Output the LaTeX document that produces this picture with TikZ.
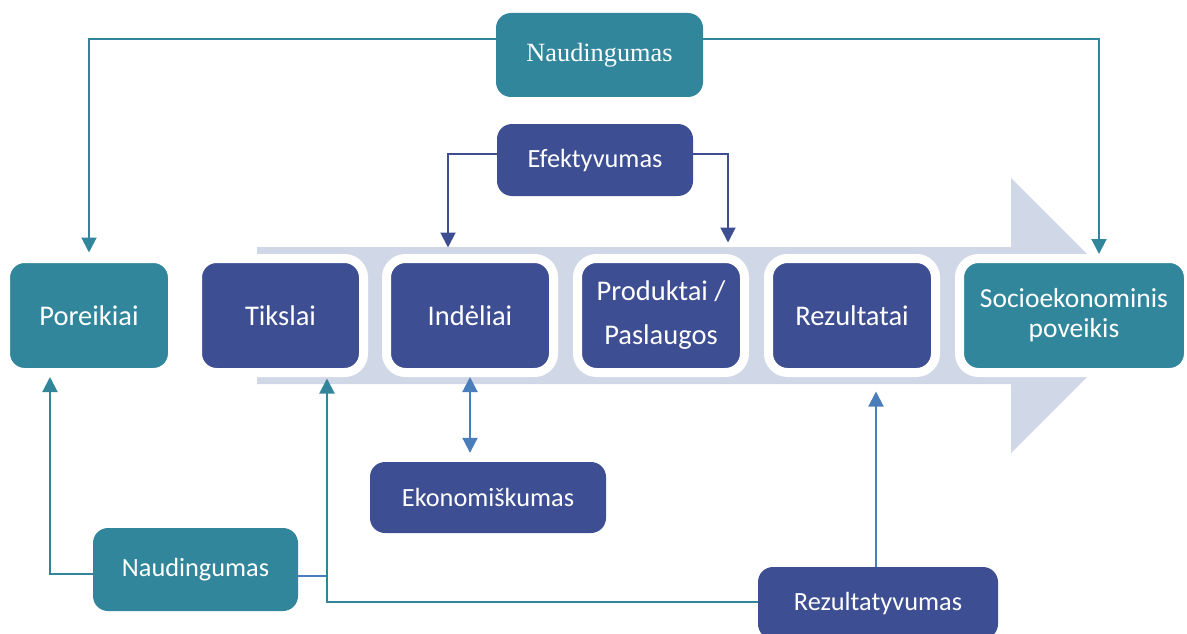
\documentclass[tikz,border=0pt]{standalone}
\usepackage{fontspec}
\setmainfont{Carlito}
\newfontfamily\timesf{Liberation Serif}
\usetikzlibrary{arrows.meta,calc}
\definecolor{tealc}{HTML}{32869C}
\definecolor{navyc}{HTML}{3E4E92}
\definecolor{bandc}{HTML}{D0D8E8}
\definecolor{lblue}{HTML}{4A7EBB}
\tikzset{
  rowbox/.style={rounded corners=19pt, draw=white, line width=9pt, minimum height=114pt,
    text=white, font=\fontsize{28.5}{44}\selectfont, align=center, inner sep=0pt},
  sidebox/.style={rounded corners=15pt, inner sep=0pt, text=white, font=\fontsize{26.3}{30}\selectfont},
  tip/.style={-{Triangle[width=15pt,length=15pt]}},
  tealline/.style={draw=tealc, line width=2pt},
  navyline/.style={draw=navyc, line width=2pt},
  lbline/.style={draw=lblue, line width=2pt},
}
\begin{document}
\begin{tikzpicture}[x=1pt,y=-1pt]
\useasboundingbox (0,0) rectangle (1187,634);
\clip (0,0) rectangle (1187,634);
% big arrow band
\fill[bandc] (257,247) -- (1011,247) -- (1011,178) -- (1148.5,315.5) -- (1011,453) -- (1011,384) -- (257,384) -- cycle;
% row boxes
\node[rowbox, fill=tealc, minimum width=167pt] (por) at (89,315.5) {Poreikiai};
\node[rowbox, fill=navyc, minimum width=166pt] (tik) at (280.5,315.5) {Tikslai};
\node[rowbox, fill=navyc, minimum width=167pt] (ind) at (470,315.5) {Indėliai};
\node[rowbox, fill=navyc, minimum width=167pt] (prod) at (661,315.5) {Produktai /\\Paslaugos};
\node[rowbox, fill=navyc, minimum width=167pt] (rez) at (852,315.5) {Rezultatai};
\node[rowbox, fill=tealc, minimum width=229pt, font=\fontsize{27.5}{30}\selectfont] (soc) at (1074,315.5) {Socioekonominis\\poveikis};
% side boxes
\node[sidebox, fill=tealc, minimum width=207pt, minimum height=84pt, font=\timesf\fontsize{26.3}{30}\selectfont] (ntop) at (599.5,55) {Naudingumas};
\node[sidebox, fill=navyc, minimum width=196pt, minimum height=72pt] (efe) at (595,160) {Efektyvumas};
\node[sidebox, fill=navyc, minimum width=236pt, minimum height=71pt] (eko) at (488,497.5) {Ekonomiškumas};
\node[sidebox, fill=tealc, minimum width=205pt, minimum height=83pt] (nbot) at (195.5,569.5) {Naudingumas};
\node[sidebox, fill=navyc, minimum width=240pt, minimum height=72pt] (rzv) at (878,603) {Rezultatyvumas};
% helper coordinates
\coordinate (tx) at ([xshift=46.5pt]tik.south);
\coordinate (nbe) at ([yshift=-6pt]nbot.east);
% connectors
\draw[tealline, tip, shorten >=1.5pt] ([yshift=16pt]ntop.west) -| (por.north);
\draw[tealline, tip] ([yshift=16pt]ntop.east) -| ([xshift=25pt]soc.north);
\draw[navyline, tip, shorten >=6.5pt] ([yshift=6pt]efe.west) -| ([xshift=-22pt]ind.north);
\draw[navyline, tip, shorten >=11.5pt] ([yshift=6pt]efe.east) -| ([xshift=67pt]prod.north);
\draw[lbline, {Triangle[width=15pt,length=15pt]}-{Triangle[width=15pt,length=15pt]}, shorten >=9pt] (ind.south) -- (ind.south |- eko.north);
\draw[tealline, tip] ([yshift=-4.5pt]nbot.west) -| ([xshift=-39pt]por.south);
\draw[lbline] (nbe) -- (nbe -| tx);
\draw[tealline, tip, shorten >=1.5pt] ([yshift=1pt]rzv.west) -| (tx);
\draw[lbline, tip, shorten >=14.5pt] ([xshift=-2pt]rzv.north) -- ([xshift=-2pt]rzv.north |- rez.south);
\end{tikzpicture}
\end{document}
